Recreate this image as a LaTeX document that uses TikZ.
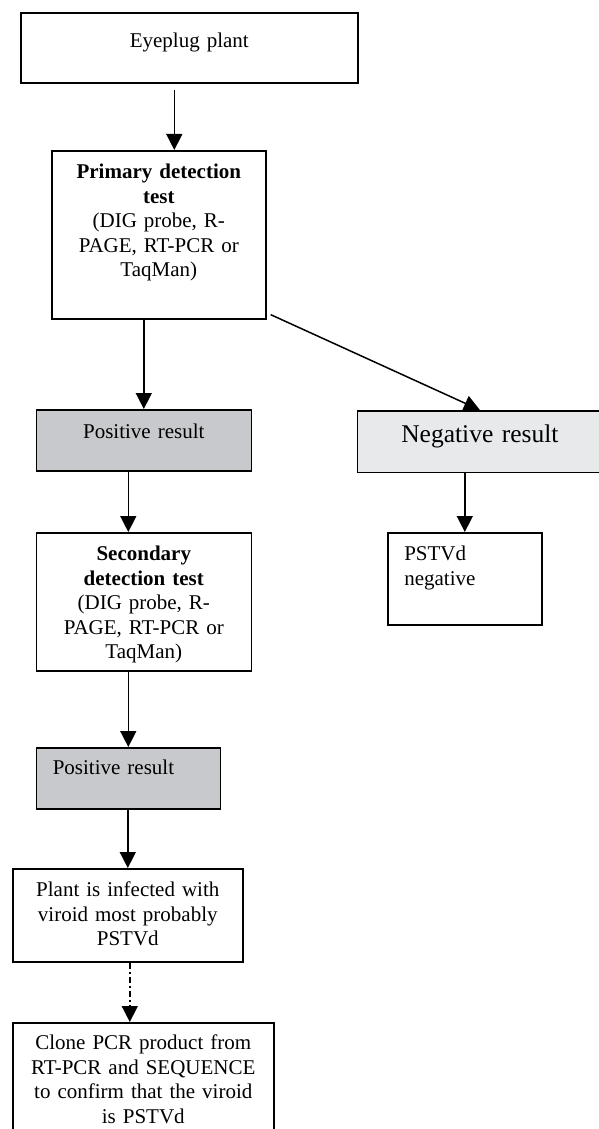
\documentclass[tikz,border=0pt]{standalone}
\usepackage{fontspec}
\setmainfont{Liberation Serif}
\usepackage{tikz}
\usetikzlibrary{positioning,arrows.meta}

\definecolor{posgray}{RGB}{200,201,204}
\definecolor{neggray}{RGB}{232,233,235}

\begin{document}
\begin{tikzpicture}[
      x=1pt, y=-1pt,
      box/.style={draw, line width=1.6pt, anchor=north west, inner ysep=0pt, inner xsep=5pt, align=center, font=\fontsize{21}{24.5}\selectfont},
      arrow/.style={-{Triangle[length=16pt, width=16pt]}, line width=1.5pt}
    ]
    \useasboundingbox (0,0) rectangle (598,1129);

    \node[box, text width=327pt, text height=34pt, text depth=36pt] (eyeplug) at (20,12.3) {Eyeplug plant};
    \node[box, text width=204pt, text height=28pt, text depth=140pt] (primary) at (51,150) {\textbf{Primary detection}\\\textbf{test}\\(DIG probe, R-\\PAGE, RT-PCR or\\TaqMan)};
    \node[box, fill=posgray, text width=205pt, text height=29pt, text depth=32pt] (pos1) at (35.5,409) {Positive result};
    \node[box, fill=neggray, text width=235pt, text height=31.5pt, text depth=30pt, font=\fontsize{25.5}{30}\selectfont] (neg) at (356.6,410) {Negative result};
    \node[box, align=left, inner xsep=16.5pt, text width=121pt, text height=28pt, text depth=64pt] (pstvd_neg) at (387,532) {PSTVd\\negative};
    \node[box, text width=205pt, text height=28pt, text depth=110pt] (secondary) at (35.5,532) {\textbf{Secondary}\\\textbf{detection test}\\(DIG probe, R-\\PAGE, RT-PCR or\\TaqMan)};
    \node[box, fill=posgray, align=left, inner xsep=16.5pt, text width=151pt, text height=27pt, text depth=34pt] (pos2) at (35.5,747) {Positive result};
    \node[box, text width=220pt, text height=28pt, text depth=65pt] (infected) at (12,868) {Plant is infected with\\viroid most probably\\PSTVd};
    \node[box, text width=251pt, text height=27pt, text depth=82pt] (clone) at (12,1022) {Clone PCR product from\\RT-PCR and SEQUENCE\\to confirm that the viroid\\is PSTVd};

    \draw[arrow] ([xshift=15.5pt, yshift=-6pt]primary.north |- eyeplug.south) -- ([xshift=15.5pt]primary.north);
    \draw[arrow] (pos1.north |- primary.south) -- (pos1.north);
    \draw[arrow] ([xshift=4pt, yshift=5pt]primary.south east) -- (neg.north);
    \draw[arrow] (pstvd_neg.north |- neg.south) -- (pstvd_neg.north);

    % left column goes on down
    \draw[arrow] (pos2.north |- pos1.south) -- (pos2.north |- secondary.north);
    \draw[arrow] (pos2.north |- secondary.south) -- (pos2.north);
    \draw[arrow] (infected.north |- pos2.south) -- (infected.north);
    \draw[arrow, dash pattern=on 6pt off 3pt on 2pt off 3pt] ([xshift=2pt]infected.south) -- ([xshift=2pt]infected.south |- clone.north);
  \end{tikzpicture}
\end{document}
